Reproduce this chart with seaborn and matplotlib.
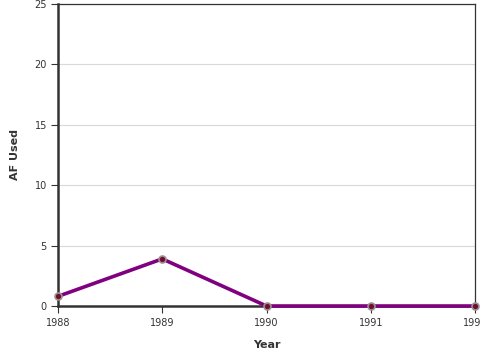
import matplotlib
matplotlib.use("Agg")
import matplotlib.pyplot as plt
import seaborn as sns
import pandas as pd

years = [1988, 1989, 1990, 1991, 1992]
af_used = [0.8, 3.9, 0.0, 0.0, 0.0]
y_ticks = [0, 5, 10, 15, 20, 25]

df = pd.DataFrame({"Year": years, "AF Used": af_used})

sns.set_style("white")
plt.rcParams['font.family'] = ['DejaVu Sans']

fig = plt.figure(figsize=(4.8, 3.6), dpi=100)
ax = fig.add_axes([58/480, 54/360, 417/480, 302/360])

for y in y_ticks[1:]:
    ax.axhline(y, color="#d9d9d9", lw=0.8, zorder=0)

sns.lineplot(data=df, x="Year", y="AF Used", ax=ax, color="#800080", lw=2.6,
             marker="o", markersize=5, markerfacecolor="#6b1030",
             markeredgecolor="#a09090", markeredgewidth=1.2, zorder=3, clip_on=False)

ax.set_xlim(1988, 1992)
ax.set_ylim(0, 25)
ax.set_xticks(years)
ax.set_xticklabels([str(y) for y in years])
ax.set_yticks(y_ticks)
ax.tick_params(axis="both", labelsize=7, length=5, width=0.8, color="#333333",
               labelcolor="#333333", direction="out", pad=3, bottom=True, left=True)
ax.tick_params(axis="x", pad=4)

for side in ["left", "bottom"]:
    ax.spines[side].set_linewidth(1.8)
    ax.spines[side].set_color("#333333")
for side in ["top", "right"]:
    ax.spines[side].set_linewidth(0.9)
    ax.spines[side].set_color("#333333")

ax.set_xlabel("Year", fontsize=8, fontweight="bold", color="#333333", labelpad=8)
ax.set_ylabel("AF Used", fontsize=8, fontweight="bold", color="#333333", labelpad=10)

fig.savefig("out.png", dpi=100)
